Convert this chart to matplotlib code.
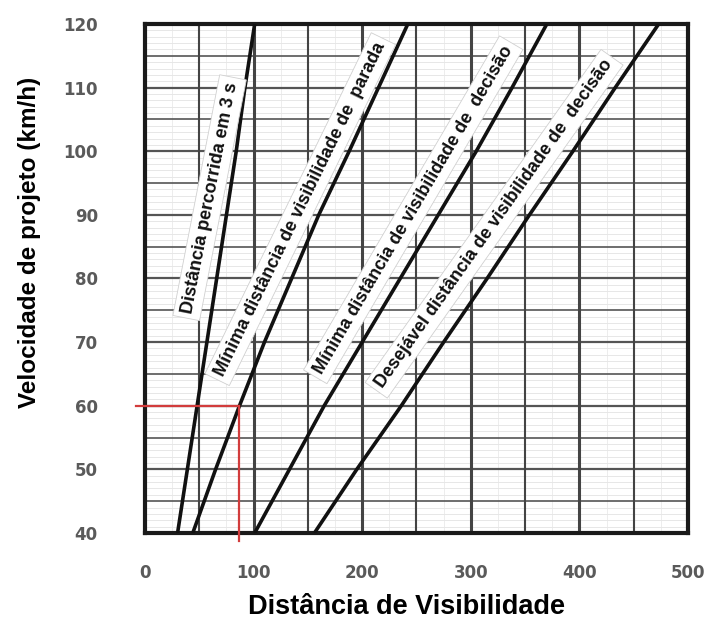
import matplotlib.pyplot as plt
import numpy as np

# ── Data ─────────────────────────────────────────────────────────────────────
velocidade = [40, 50, 60, 70, 80, 90, 100, 110, 120]
dist_3s = [30, 39, 48, 57, 66, 75, 84, 92, 101]
parada_min = [44, 65, 87, 110, 135, 160, 188, 215, 242]
decisao_min = [101, 133, 165, 200, 235, 270, 305, 338, 370]
decisao_desej = [156, 195, 236, 275, 315, 354, 394, 433, 473]

curve_labels = [
    "Distância percorrida em 3 s",
    "Mínima distância de visibilidade de  parada",
    "Mínima distância de visibilidade de  decisão",
    "Desejável distância de visibilidade de  decisão",
]

x_ticks = [0, 100, 200, 300, 400, 500]
y_ticks = [40, 50, 60, 70, 80, 90, 100, 110, 120]

# example reading: 60 km/h -> ~87 m
ex_v, ex_d = 60, 87

fig = plt.figure(figsize=(7.14, 6.21), dpi=100)
ax = fig.add_axes([145 / 714, 88 / 621, 543 / 714, 509 / 621])
ax.set_xlim(0, 500)
ax.set_ylim(40, 120)

# scanned-paper grid: faint fine lines, 5 km/h and 50 m lines, heavier every 100 m
for v in np.arange(41, 120, 1):
    if v % 5:
        ax.axhline(v, color="#dddddd", lw=0.5, zorder=1)
for d in np.arange(25, 500, 50):
    ax.axvline(d, color="#e6e6e6", lw=0.5, zorder=1)
for v in range(45, 120, 5):
    ax.axhline(v, color="#555555", lw=1.6 if v % 10 == 0 else 1.2, zorder=2)
for d in range(50, 500, 50):
    ax.axvline(d, color="#444444", lw=2.2 if d % 100 == 0 else 1.5, zorder=2)

for s in ax.spines.values():
    s.set_linewidth(3)
    s.set_color("#1a1a1a")

# curves
for serie in [dist_3s, parada_min, decisao_min, decisao_desej]:
    ax.plot(serie, velocidade, color="#111111", lw=2.6, zorder=4,
            solid_capstyle="butt")

# red example line
ax.plot([-8, ex_d], [ex_v, ex_v], color="#d23c3c", lw=1.6, zorder=5, clip_on=False)
ax.plot([ex_d, ex_d], [ex_v, 38.8], color="#d23c3c", lw=1.6, zorder=5, clip_on=False)

# rotated curve labels in white boxes, sitting just left of each curve
label_pos = [(59.5, 92.7, 79), (143.0, 90.9, 64), (247.0, 90.8, 59.6), (321.5, 88.6, 54.7)]
for txt, (x, y, rot) in zip(curve_labels, label_pos):
    ax.text(x, y, txt, rotation=rot, rotation_mode="anchor", ha="center", va="center",
            fontsize=13, fontweight="bold", family="Liberation Sans", color="#111111",
            zorder=6,
            bbox=dict(boxstyle="square,pad=0.28", facecolor="white",
                      edgecolor="#d0d0d0", lw=0.6))

ax.set_xticks(x_ticks)
ax.set_yticks(y_ticks)
ax.set_xticklabels([str(t) for t in x_ticks])
ax.set_yticklabels([str(t) for t in y_ticks])
ax.tick_params(length=0, labelsize=12, labelcolor="#5a5a5a", pad=22)
ax.tick_params(axis="y", pad=34)
for lbl in ax.get_xticklabels() + ax.get_yticklabels():
    lbl.set_fontweight("bold")

fig.text(0.042, 0.61, "Velocidade de projeto (km/h)", rotation=90, ha="center", va="center",
         fontsize=17.5, fontweight="bold", family="Liberation Sans")
fig.text(0.57, 0.022, "Distância de Visibilidade", ha="center", va="center",
         fontsize=19.5, fontweight="bold", family="Liberation Sans")

fig.savefig("out.png", dpi=100)
